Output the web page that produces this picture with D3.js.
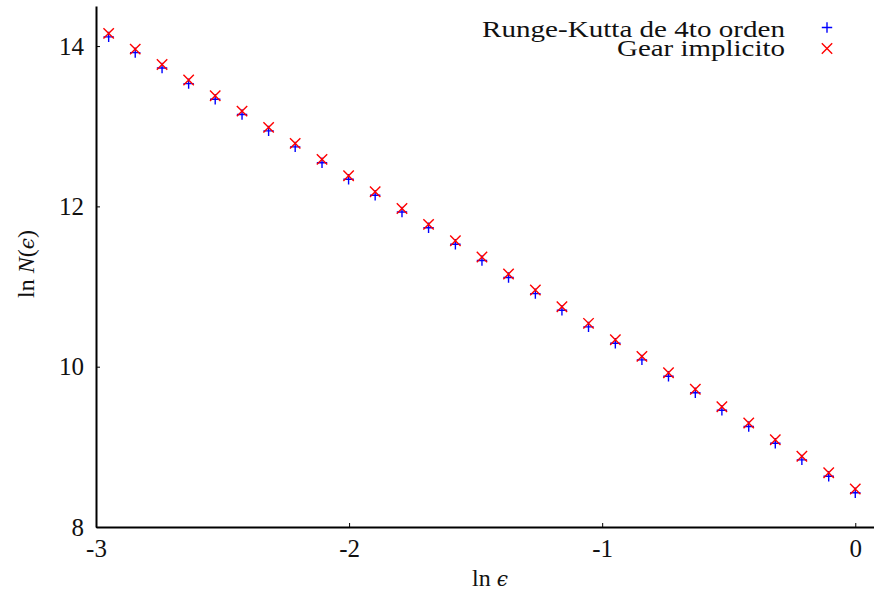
<!DOCTYPE html>
<html>
<head>
<meta charset="utf-8">
<script src="https://cdn.jsdelivr.net/npm/d3@7"></script>
<style>
  html, body { margin: 0; padding: 0; background: #fff; }
  svg { display: block; }
  text { font-family: "Liberation Serif", "DejaVu Serif", serif; fill: #111; }
</style>
</head>
<body>
<svg id="chart" width="874" height="593"></svg>
<script>
// ln(epsilon) values
const lnEps = [-2.950, -2.845, -2.739, -2.634, -2.529, -2.423, -2.318, -2.213, -2.107, -2.002,
               -1.897, -1.791, -1.686, -1.580, -1.475, -1.370, -1.264, -1.159, -1.054, -0.948,
               -0.843, -0.738, -0.632, -0.527, -0.421, -0.316, -0.211, -0.105, 0.000];
// Runge-Kutta de 4to orden: ln N(eps)
const rk4 = [14.115, 13.918, 13.727, 13.532, 13.336, 13.146, 12.942, 12.743, 12.544, 12.338,
             12.139, 11.930, 11.733, 11.527, 11.324, 11.112, 10.912, 10.705, 10.497, 10.292,
             10.085, 9.881, 9.674, 9.457, 9.253, 9.045, 8.838, 8.633, 8.428];
// Gear implicito: ln N(eps)
const gear = [14.158, 13.962, 13.771, 13.576, 13.380, 13.189, 12.986, 12.786, 12.587, 12.382,
              12.182, 11.974, 11.776, 11.571, 11.368, 11.156, 10.956, 10.748, 10.541, 10.336,
              10.129, 9.925, 9.718, 9.501, 9.297, 9.089, 8.882, 8.677, 8.474];
const xTicks = [-3, -2, -1, 0];
const xTickLabels = ["-3", "-2", "-1", "0"];
const yTicks = [8, 10, 12, 14];
const yTickLabels = ["8", "10", "12", "14"];
const seriesNames = ["Runge-Kutta de 4to orden", "Gear implicito"];

const svg = d3.select("#chart");
const x = d3.scaleLinear().domain([-3, 0.074]).range([96, 874]);
const y = d3.scaleLinear().domain([8, 14.5]).range([527, 6]);

// axes (inward ticks)
const xAxis = d3.axisBottom(x).tickValues(xTicks).tickSizeInner(-4).tickSizeOuter(0)
  .tickPadding(12).tickFormat((d, i) => xTickLabels[i]);
const gx = svg.append("g").attr("transform", "translate(0,527)").call(xAxis);
gx.select(".domain").attr("stroke", "#000").attr("stroke-width", 2);
gx.selectAll(".tick line").attr("stroke", "#000").attr("stroke-width", 1);
gx.selectAll(".tick text").attr("font-size", 25).attr("font-family", "Liberation Serif").attr("fill", "#111")
  .attr("dy", "0.71em");

const yAxis = d3.axisLeft(y).tickValues(yTicks).tickSizeInner(-4).tickSizeOuter(0)
  .tickPadding(12).tickFormat((d, i) => yTickLabels[i]);
const gy = svg.append("g").attr("transform", "translate(96,0)").call(yAxis);
gy.select(".domain").attr("stroke", "#000").attr("stroke-width", 2);
gy.selectAll(".tick line").attr("stroke", "#000").attr("stroke-width", 1);
gy.selectAll(".tick text").attr("font-size", 25).attr("font-family", "Liberation Serif").attr("fill", "#111");

// markers
const s = 5.2;
const plusPath = (cx, cy) => `M${cx - s},${cy}H${cx + s}M${cx},${cy - s}V${cy + s}`;
const crossPath = (cx, cy) => `M${cx - s},${cy - s}L${cx + s},${cy + s}M${cx - s},${cy + s}L${cx + s},${cy - s}`;

svg.append("g").selectAll("path").data(lnEps).join("path")
  .attr("d", (d, i) => plusPath(x(d), y(rk4[i])))
  .attr("stroke", "#0000ff").attr("stroke-width", 1.4).attr("fill", "none");

svg.append("g").selectAll("path").data(lnEps).join("path")
  .attr("d", (d, i) => crossPath(x(d), y(gear[i])))
  .attr("stroke", "#ff0000").attr("stroke-width", 1.4).attr("fill", "none");

// legend
const leg = svg.append("g");
leg.append("text").attr("x", 785).attr("y", 36.5).attr("text-anchor", "end")
  .attr("font-size", 24).attr("textLength", 303).attr("lengthAdjust", "spacingAndGlyphs")
  .text(seriesNames[0]);
leg.append("text").attr("x", 785).attr("y", 56).attr("text-anchor", "end")
  .attr("font-size", 24).attr("textLength", 168).attr("lengthAdjust", "spacingAndGlyphs")
  .text(seriesNames[1]);
leg.append("path").attr("d", plusPath(827, 27.5)).attr("stroke", "#0000ff").attr("stroke-width", 1.4);
leg.append("path").attr("d", crossPath(827, 48.5)).attr("stroke", "#ff0000").attr("stroke-width", 1.4);

// axis labels
const xl = svg.append("text").attr("x", 490).attr("y", 586).attr("text-anchor", "middle").attr("font-size", 24);
xl.append("tspan").text("ln ");
xl.append("tspan").attr("font-style", "italic").attr("font-family", "DejaVu Serif").attr("font-size", 20).text("ϵ");

const yl = svg.append("text").attr("transform", "translate(34,264) rotate(-90)")
  .attr("text-anchor", "middle").attr("font-size", 24);
yl.append("tspan").text("ln ");
yl.append("tspan").attr("font-style", "italic").text("N");
yl.append("tspan").text("(");
yl.append("tspan").attr("font-style", "italic").attr("font-family", "DejaVu Serif").attr("font-size", 20).text("ϵ");
yl.append("tspan").text(")");
</script>
</body>
</html>
